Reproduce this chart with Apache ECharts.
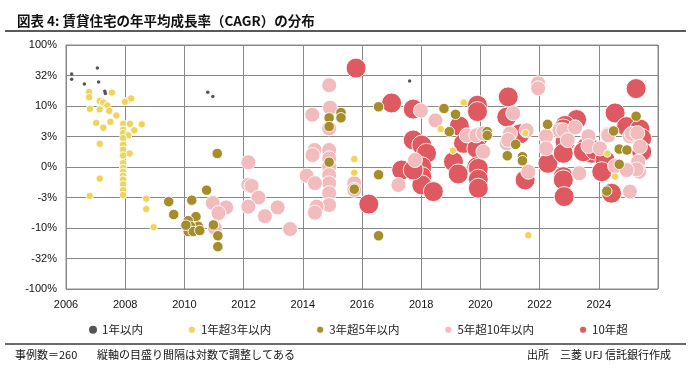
<!DOCTYPE html>
<html><head><meta charset="utf-8">
<script src="https://cdn.jsdelivr.net/npm/echarts@6/dist/echarts.min.js"></script>
<style>html,body{margin:0;padding:0;background:#fff}#c{width:700px;height:370px}</style>
</head><body><div id="c"></div>
<script>
// ---- data: [year, CAGR %] ----
const seriesNames = ['1年以内','1年超3年以内','3年超5年以内','5年超10年以内','10年超'];
const within1 = [[2006.19,33.5],[2006.19,27.4],[2006.62,22.9],[2007.06,41.8],[2007.10,24.8],[2007.31,17.5],[2007.33,16.0],[2010.79,16.8],[2010.96,14.3],[2017.61,25.7]];
const y1to3 = [[2006.78,17.0],[2006.78,13.9],[2007.55,16.6],[2007.14,12.1],[2007.26,11.4],[2007.40,10.2],[2006.81,9.0],[2007.14,8.8],[2007.46,8.3],[2007.70,7.0],[2007.02,5.3],[2007.26,4.4],[2007.50,5.5],[2007.93,5.1],[2008.16,5.1],[2007.93,4.1],[2007.93,3.6],[2008.31,4.0],[2008.56,5.0],[2008.10,3.3],[2007.93,3.0],[2007.93,2.3],[2007.14,2.4],[2007.93,1.8],[2008.15,1.4],[2007.93,1.2],[2008.10,12.4],[2008.20,13.3],[2007.99,11.7],[2007.93,0.4],[2007.93,-0.1],[2007.93,-0.5],[2007.93,-0.9],[2007.14,-1.2],[2007.93,-1.3],[2007.93,-1.8],[2007.93,-2.4],[2007.93,-2.9],[2006.80,-3.0],[2008.71,-3.3],[2008.71,-4.9],[2008.96,-9.7],[2015.74,0.83],[2015.74,-0.59],[2019.44,11.4],[2018.66,4.2],[2019.07,1.7],[2021.52,3.6],[2021.62,-13.1],[2024.29,1.4],[2024.55,-1.0]];
const y3to5 = [[2011.11,1.4],[2009.47,-3.7],[2009.64,-6.0],[2010.25,-3.5],[2010.75,-2.4],[2010.39,-6.5],[2010.13,-7.6],[2010.47,-9.4],[2010.21,-9.4],[2010.13,-11.4],[2010.30,-11.4],[2010.52,-11.0],[2010.05,-9.0],[2010.98,-8.9],[2011.13,-13.4],[2011.13,-20.2],[2014.89,0.5],[2015.74,-2.3],[2016.56,-0.8],[2016.56,-13.4],[2014.89,6.4],[2014.89,4.6],[2015.29,7.8],[2015.29,6.4],[2016.56,9.7],[2018.77,9.1],[2019.16,7.3],[2018.95,3.8],[2020.23,3.8],[2020.23,3.3],[2021.19,2.35],[2020.91,1.17],[2021.42,1.07],[2021.42,0.65],[2022.27,5.0],[2025.26,6.8],[2024.50,3.9],[2024.69,1.86],[2024.95,1.76],[2024.69,0.28],[2024.27,-2.5]];
const y5to10 = [[2014.89,21.9],[2014.92,9.4],[2014.32,7.2],[2014.89,4.3],[2014.40,1.76],[2014.89,1.76],[2014.89,0.9],[2014.89,0.03],[2014.89,-0.83],[2014.89,-1.68],[2014.89,-2.72],[2014.89,-4.2],[2014.33,1.24],[2014.13,-0.9],[2014.41,-1.68],[2014.47,-4.47],[2014.41,-5.6],[2012.16,0.49],[2012.16,-1.86],[2012.27,-1.96],[2012.50,-3.17],[2012.16,-4.47],[2012.72,-6.4],[2013.15,-4.6],[2013.57,-10.4],[2010.96,-3.9],[2011.41,-4.6],[2011.15,-5.7],[2011.03,-10.0],[2015.74,-1.68],[2015.74,-2.37],[2021.95,23.5],[2021.95,19.5],[2017.99,8.4],[2018.48,5.8],[2019.54,3.3],[2017.79,0.72],[2020.10,1.58],[2019.86,3.3],[2020.10,3.55],[2021.11,7.6],[2021.00,3.55],[2021.56,4.0],[2020.89,2.45],[2020.94,2.8],[2021.62,-0.49],[2017.23,-1.86],[2022.67,4.0],[2022.80,4.0],[2023.20,4.47],[2022.22,3.2],[2022.22,1.93],[2022.95,2.79],[2023.65,3.2],[2023.65,2.17],[2024.04,1.93],[2024.29,3.43],[2024.32,3.3],[2025.05,3.2],[2025.11,3.5],[2025.30,3.6],[2025.39,2.1],[2025.33,0.55],[2025.36,-0.49],[2023.34,-0.65],[2025.05,-2.55],[2025.28,-0.24],[2024.55,0.1],[2024.94,-0.31]];
const over10 = [[2015.80,41.8],[2016.23,-4.06],[2017.00,11.2],[2017.73,8.9],[2019.90,10.3],[2019.90,8.1],[2020.94,14.1],[2020.89,6.6],[2019.29,4.7],[2017.73,2.8],[2018.02,2.27],[2018.18,1.42],[2017.34,-0.31],[2018.02,0.03],[2019.43,2.45],[2019.09,0.55],[2019.93,3.1],[2019.88,1.93],[2019.88,0.03],[2018.02,-1.0],[2018.02,-1.86],[2018.41,-2.55],[2017.73,-0.31],[2019.25,-0.72],[2019.93,-0.13],[2019.93,-1.27],[2019.93,-2.2],[2021.51,-1.34],[2021.34,3.5],[2025.26,19.3],[2024.55,7.7],[2023.25,6.0],[2022.86,4.8],[2022.80,4.2],[2024.94,4.6],[2025.39,4.2],[2025.45,2.96],[2022.28,0.38],[2022.86,2.6],[2022.80,1.42],[2023.59,2.1],[2023.76,1.42],[2023.48,1.58],[2023.87,1.76],[2024.21,0.72],[2024.10,-0.49],[2022.80,-1.0],[2022.80,-1.34],[2022.83,-3.07],[2024.43,-2.72],[2025.45,1.58]];
const yTickLabels = {'-4':'-100%','-3':'-32%','-2':'-10%','-1':'-3%','0':'0%','1':'3%','2':'10%','3':'32%','4':'100%'};
const xTickYears = [2006,2008,2010,2012,2014,2016,2018,2020,2022,2024];

// symmetric log-style level used by the vertical axis
function level(p){const a=Math.abs(p);const s=Math.sqrt(10);const L=a<=s?a/s:2*Math.log10(a);return p<0?-L:L;}
const conv = arr => arr.map(d => [d[0], level(d[1]), d[1]]);

const colors = ['#555555','#F0D35A','#A58D2C','#F2BBBE','#DF5A60'];
const sizes = [3.5,7.5,10.5,15,20];
const zs = [6,5,4,3,2];
const datasets = [within1,y1to3,y3to5,y5to10,over10];

const chart = echarts.init(document.getElementById('c'), null, {renderer:'canvas'});
chart.setOption({
  animation:false,
  textStyle:{fontFamily:'Liberation Sans, Arial, sans-serif'},
  title:{text:'図表 4: 賃貸住宅の年平均成長率（CAGR）の分布',left:12,top:9,
    textStyle:{fontFamily:'Noto Sans CJK JP',fontSize:13.5,fontWeight:'bold',color:'#111'}},
  grid:{left:66,right:42,top:45,bottom:81,show:true,borderColor:'#888',borderWidth:1},
  legend:{data:seriesNames,left:84,top:319,itemGap:44,itemWidth:8,itemHeight:8,icon:'circle',
    textStyle:{fontFamily:'Noto Sans CJK JP',fontSize:11.5,color:'#222'}},
  xAxis:{type:'value',min:2006,max:2026,interval:2,
    axisLine:{lineStyle:{color:'#888'}},axisTick:{show:false},
    splitLine:{show:true,lineStyle:{color:'#888',width:1}},
    axisLabel:{color:'#111',fontSize:11,margin:10,
      formatter:v=>xTickYears.indexOf(v)>=0?String(v):''}},
  yAxis:{type:'value',min:-4,max:4,interval:1,
    axisLine:{show:true,lineStyle:{color:'#888'}},axisTick:{show:false},
    splitLine:{show:true,lineStyle:{color:'#888',width:1}},
    axisLabel:{color:'#111',fontSize:11,margin:9,formatter:v=>yTickLabels[String(v)]||''}},
  graphic:[
    {type:'rect',shape:{x:5,y:30,width:681,height:2},style:{fill:'#5a5a5a'}},
    {type:'rect',shape:{x:5,y:343,width:681,height:2},style:{fill:'#6a6a6a'}},
    {type:'text',left:15,top:349,style:{text:'事例数＝260',font:'11px "Noto Sans CJK JP"',fill:'#111'}},
    {type:'text',left:97,top:349,style:{text:'縦軸の目盛り間隔は対数で調整してある',font:'11px "Noto Sans CJK JP"',fill:'#111'}},
    {type:'text',left:527,top:349,style:{text:'出所　三菱 UFJ 信託銀行作成',font:'11px "Noto Sans CJK JP"',fill:'#111'}}
  ],
  series: seriesNames.map((n,i)=>({
    name:n,type:'scatter',z:zs[i],symbolSize:sizes[i],data:conv(datasets[i]),
    itemStyle:{color:colors[i],opacity:1,borderColor:i===0?'rgba(0,0,0,0)':'rgba(255,255,255,0.9)',borderWidth:i===0?0:1}
  }))
});
</script></body></html>
